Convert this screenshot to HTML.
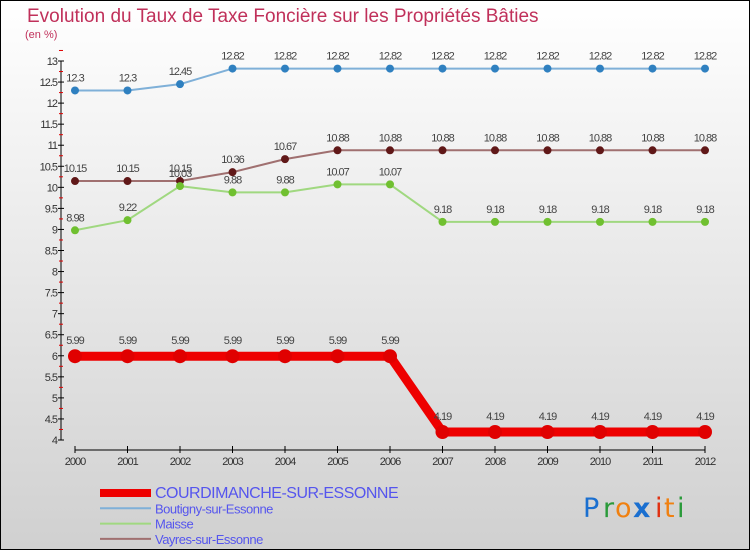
<!DOCTYPE html>
<html><head><meta charset="utf-8"><style>
body{margin:0;width:750px;height:550px;overflow:hidden;font-family:"Liberation Sans",sans-serif}
</style></head><body>
<svg id="c" width="750" height="550" xmlns="http://www.w3.org/2000/svg">
<defs><linearGradient id="bg" x1="0" y1="0" x2="0" y2="1"><stop offset="0" stop-color="#ffffff"/><stop offset="1" stop-color="#d0d0d0"/></linearGradient></defs>
<rect x="0.5" y="0.5" width="749" height="549" fill="url(#bg)" stroke="#000"/>
<text x="27" y="22" font-size="19" fill="#c0305a">Evolution du Taux de Taxe Foncière sur les Propriétés Bâties</text>
<text x="25" y="38" font-size="11" fill="#c0305a">(en %)</text>
<g id="axes"></g><g id="series"></g><g id="legend"></g>
<g font-size="27" font-family="'DejaVu Sans',sans-serif">
<text x="583" y="517" fill="#1a6fd0">P</text><text x="603" y="517" fill="#2a9a3a">r</text><text x="615" y="517" fill="#f08010">o</text><text x="633" y="517" fill="#1a6fd0" font-weight="bold">x</text><text x="655" y="517" fill="#e03010">i</text><text x="664" y="517" fill="#f08010">t</text><text x="677" y="517" fill="#2a9a3a">i</text>
</g>
</svg>
<script>
const years=[2000,2001,2002,2003,2004,2005,2006,2007,2008,2009,2010,2011,2012];
const courd=[5.99,5.99,5.99,5.99,5.99,5.99,5.99,4.19,4.19,4.19,4.19,4.19,4.19];
const bout=[12.3,12.3,12.45,12.82,12.82,12.82,12.82,12.82,12.82,12.82,12.82,12.82,12.82];
const maisse=[8.98,9.22,10.03,9.88,9.88,10.07,10.07,9.18,9.18,9.18,9.18,9.18,9.18];
const vayres=[10.15,10.15,10.15,10.36,10.67,10.88,10.88,10.88,10.88,10.88,10.88,10.88,10.88];
const yTicks=[4,4.5,5,5.5,6,6.5,7,7.5,8,8.5,9,9.5,10,10.5,11,11.5,12,12.5,13];
const NS="http://www.w3.org/2000/svg";
const X=i=>75+i*(630/(years.length-1));
const Y=v=>440-(v-4)*(379/9);
function mk(t,a,p){const e=document.createElementNS(NS,t);for(const k in a)e.setAttribute(k,a[k]);p.appendChild(e);return e;}
const ax=document.getElementById('axes');
const yl=mk('line',{x1:61,y1:Y(13),x2:61,y2:Y(4),stroke:'#000'},ax);


yTicks.forEach(v=>{
 mk('line',{x1:58,y1:Y(v),x2:64,y2:Y(v),stroke:'#000'},ax);
 mk('line',{x1:59,y1:Y(v+0.25),x2:63,y2:Y(v+0.25),stroke:'#e00000'},ax);
 const t=mk('text',{x:57,y:Y(v)+4,'font-size':11,fill:'#333','text-anchor':'end','letter-spacing':'-1'},ax);
 t.textContent=v;
 
 
});
const xl=mk('line',{x1:X(0),y1:450,x2:X(12),y2:450,stroke:'#000'},ax);


years.forEach((y,i)=>{
 mk('line',{x1:X(i),y1:446,x2:X(i),y2:453,stroke:'#000'},ax);
 const t=mk('text',{x:X(i),y:465,'font-size':11,fill:'#333','text-anchor':'middle','letter-spacing':'-1'},ax);
 t.textContent=y;
 
 
});
const sg=document.getElementById('series');
function series(vals,name,line,dot,w,r){
 const g=mk('g',{},sg);
 
 
 mk('polyline',{points:vals.map((v,i)=>X(i)+','+Y(v)).join(' '),fill:'none',stroke:line,'stroke-width':w,'stroke-linejoin':'round'},g);
 vals.forEach((v,i)=>{
  const c=mk('circle',{cx:X(i),cy:Y(v),r:r,fill:dot},g);
  
  
  const t=mk('text',{x:X(i),y:Y(v)-9-(r>5?3:0),'font-size':11,fill:'#444','text-anchor':'middle','letter-spacing':'-1'},g);
  t.textContent=v;
  
  
 });
}
series(bout,'boutigny-series','#7fb0d8','#2f80c0',2,4);
series(vayres,'vayres-series','#a07070','#601818',2,4);
series(maisse,'maisse-series','#a0d880','#70c030',2,4);
series(courd,'courdimanche-series','#ee0000','#e00000',9,7);
const lg=document.getElementById('legend');
const items=[['COURDIMANCHE-SUR-ESSONNE','#ee0000',8,16],['Boutigny-sur-Essonne','#7fb0d8',2,13],['Maisse','#a0d880',2,13],['Vayres-sur-Essonne','#a07070',2,13]];
items.forEach((it,i)=>{
 const yy=493+i*15.3;
 const g=mk('g',{},lg);
 
 
 mk('line',{x1:100,y1:yy,x2:151,y2:yy,stroke:it[1],'stroke-width':it[2]},g);
 const t=mk('text',{x:155,y:yy+5,'font-size':it[3],fill:'#5555ee','letter-spacing':'-0.5'},g);
 t.textContent=it[0];
});
</script>
</body></html>
